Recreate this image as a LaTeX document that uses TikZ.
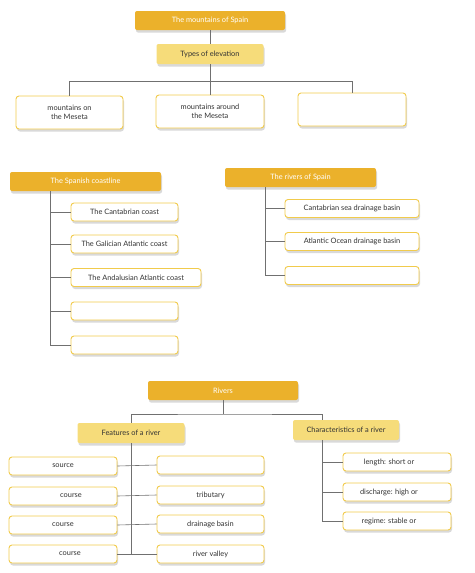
\documentclass[tikz,border=0pt]{standalone}
\usepackage{fontspec}
\setmainfont{Lato}
\usepackage{tikz}
\usetikzlibrary{shadows}
\definecolor{gold}{HTML}{EBB12B}
\definecolor{paleyellow}{HTML}{F6DC7A}
\definecolor{cardrim}{HTML}{F1CB4C}
\definecolor{linkgrey}{HTML}{707070}
\definecolor{inkgrey}{HTML}{333333}
\begin{document}
\begin{tikzpicture}[x=1pt,y=-1pt,font=\fontsize{7.4}{9}\selectfont,
  boxshade/.style={drop shadow={shadow xshift=1pt,shadow yshift=-2.5pt,opacity=0.15,fill=black}},
  headbox/.style={rectangle,rounded corners=2pt,fill=gold,text=white,minimum height=19pt,inner sep=1pt,boxshade},
  subbox/.style={rectangle,rounded corners=2pt,fill=paleyellow,text=inkgrey,minimum height=20pt,inner sep=1pt,boxshade},
  card/.style={rectangle,rounded corners=3pt,fill=white,draw=cardrim,line width=0.9pt,text=inkgrey,minimum height=18pt,inner sep=1pt,align=center,boxshade},
  link/.style={draw=linkgrey,line width=0.6pt}]
\useasboundingbox (0,0) rectangle (474,573);

% mountains
\node[headbox,minimum width=150pt] (mountains) at (210,20.5) {The mountains of Spain};
\node[subbox,minimum width=107pt] (elevation) at (210,54) {Types of elevation};
\node[card,minimum width=107pt,minimum height=33pt] (onMeseta) at (69.5,112.5) {mountains on\\the Meseta};
\node[card,minimum width=108pt,minimum height=33pt] (aroundMeseta) at (210,111.5) {mountains around\\the Meseta};
\node[card,minimum width=108pt,minimum height=33pt] (thirdType) at (352,109.5) {};
\draw[link] (mountains) -- (elevation);
\draw[link] (elevation) -- (aroundMeseta);
\draw[link] (onMeseta.north) -- ++(0,-14) -| (thirdType.north);

% coastline
\node[headbox,minimum width=151pt] (coast) at (85.5,181.5) {The Spanish coastline};
\coordinate (coastTrunk) at (50,191);
\node[card,minimum width=107pt] (cantabrian) at (124.5,212) {The Cantabrian coast};
\node[card,minimum width=107pt] (galician) at (124.5,244) {The Galician Atlantic coast};
\node[card,minimum width=130pt] (andalusian) at (136,277.5) {The Andalusian Atlantic coast};
\node[card,minimum width=107pt] (coastFour) at (124.5,311) {};
\node[card,minimum width=107pt] (coastFive) at (124.5,345) {};
\foreach \c in {cantabrian,galician,andalusian,coastFour,coastFive}
  \draw[link] (coastTrunk) |- (\c.west);

% rivers of Spain
\node[headbox,minimum width=151pt] (riversSpain) at (300.5,177.5) {The rivers of Spain};
\coordinate (basinTrunk) at (265,187);
\node[card,minimum width=134pt] (cantabrianBasin) at (352,208.5) {Cantabrian sea drainage basin};
\node[card,minimum width=134pt] (atlanticBasin) at (352,241.5) {Atlantic Ocean drainage basin};
\node[card,minimum width=134pt] (thirdBasin) at (352,275.5) {};
\foreach \b in {cantabrianBasin,atlanticBasin,thirdBasin}
  \draw[link] (basinTrunk) |- (\b.west);

% rivers
\node[headbox,minimum width=150pt] (rivers) at (223,390.5) {Rivers};
\coordinate (riverSplit) at (223,414);
\node[subbox,minimum width=107pt] (features) at (131,433) {Features of a river};
\node[subbox,minimum width=106pt] (characteristics) at (346,430) {Characteristics of a river};
\coordinate (charTrunk) at (322,440);
\draw[link] (rivers) -- (riverSplit);
\draw[link] (features.north) |- (riverSplit) -| (charTrunk |- characteristics.north);

\node[card,minimum width=108pt] (source) at (63,466) {source};
\node[card,minimum width=108pt] (upperCourse) at (63,496) {\hspace*{16pt}course};
\node[card,minimum width=108pt] (middleCourse) at (63,525) {course};
\node[card,minimum width=108pt] (lowerCourse) at (63,554) {\hspace*{14pt}course};
\node[card,minimum width=107pt] (blankFeature) at (210.5,465) {};
\node[card,minimum width=107pt] (tributary) at (210.5,495) {tributary};
\node[card,minimum width=107pt] (drainage) at (210.5,524) {drainage basin};
\node[card,minimum width=107pt] (valley) at (210.5,554) {river valley};
\draw[link] (features.south) -- (features.south |- lowerCourse.east);
\draw[link] (source.east) -- (blankFeature.west);
\draw[link] (upperCourse.east) -- (tributary.west);
\draw[link] (middleCourse.east) -- (drainage.west);
\draw[link] (lowerCourse.east) -- (valley.west);

\node[card,minimum width=108pt] (length) at (397,462) {length: short or\hspace*{16pt}};
\node[card,minimum width=108pt] (discharge) at (397,492) {discharge: high or\hspace*{16pt}};
\node[card,minimum width=108pt] (regime) at (397,521) {regime: stable or\hspace*{16pt}};
\foreach \r in {length,discharge,regime}
  \draw[link] (charTrunk) |- (\r.west);
\end{tikzpicture}
\end{document}
